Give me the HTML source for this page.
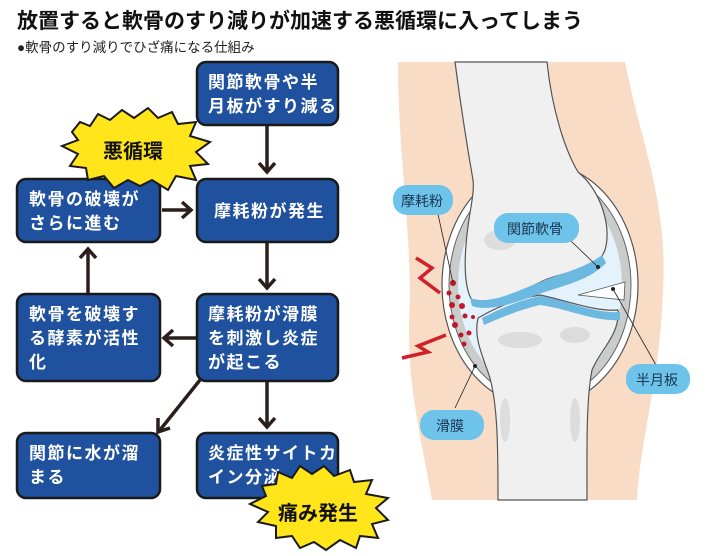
<!DOCTYPE html>
<html><head><meta charset="utf-8"><style>
body{margin:0;background:#fff;}
svg{display:block}
.t{font-family:"Liberation Sans","Noto Sans CJK JP",sans-serif;}
.bx{fill:#1f519e;stroke:#1a1a1a;stroke-width:2.5}
.bt{fill:#fff;font-weight:bold;font-size:17px;letter-spacing:1.5px}
.ar{stroke:#2a1f1c;stroke-width:3.5;fill:none}
.lb{fill:#6ec3ea}
.lt{fill:#1c3550;font-size:14px}
</style></head><body>
<svg width="710" height="556" viewBox="0 0 710 556" xmlns="http://www.w3.org/2000/svg" class="t">
<rect width="710" height="556" fill="#fff"/>
<text x="17" y="28" font-size="21" font-weight="bold" fill="#111">放置すると軟骨のすり減りが加速する悪循環に入ってしまう</text>
<text x="17" y="52" font-size="13.5" fill="#222">●軟骨のすり減りでひざ痛になる仕組み</text>

<g class="ar">
<line x1="267" y1="125" x2="267" y2="172"/><polyline points="259,163 267,172 275,163"/>
<line x1="162" y1="210" x2="190" y2="210"/><polyline points="182,202 191,210 182,218"/>
<line x1="267" y1="243" x2="267" y2="288"/><polyline points="259,279 267,288 275,279"/>
<line x1="88" y1="293" x2="88" y2="250"/><polyline points="80,258 88,249 96,258"/>
<line x1="196" y1="338" x2="165" y2="338"/><polyline points="173,330 164,338 173,346"/>
<line x1="200" y1="380" x2="160" y2="430"/><polyline points="158,418 158,432 170,428"/>
<line x1="267" y1="382" x2="267" y2="427"/><polyline points="259,418 267,427 275,418"/>
</g>

<rect class="bx" x="197" y="62" width="141" height="63" rx="9"/>
<text class="bt" x="208" y="88">関節軟骨や半</text>
<text class="bt" x="208" y="112" letter-spacing="0.5">月板がすり減る</text>
<rect class="bx" x="197" y="179" width="141" height="63" rx="9"/>
<text class="bt" x="214" y="217" letter-spacing="1">摩耗粉が発生</text>
<rect class="bx" x="17" y="179" width="143" height="63" rx="9"/>
<text class="bt" x="29" y="205">軟骨の破壊が</text>
<text class="bt" x="29" y="229">さらに進む</text>
<rect class="bx" x="197" y="294" width="141" height="87" rx="9"/>
<text class="bt" x="208" y="320">摩耗粉が滑膜</text>
<text class="bt" x="208" y="344">を刺激し炎症</text>
<text class="bt" x="208" y="368" letter-spacing="0">が起こる</text>
<rect class="bx" x="17" y="294" width="143" height="87" rx="9"/>
<text class="bt" x="29" y="320">軟骨を破壊す</text>
<text class="bt" x="29" y="344">る酵素が活性</text>
<text class="bt" x="29" y="368">化</text>
<rect class="bx" x="17" y="433" width="143" height="65" rx="9"/>
<text class="bt" x="29" y="459">関節に水が溜</text>
<text class="bt" x="29" y="483">まる</text>
<rect class="bx" x="197" y="433" width="141" height="65" rx="9"/>
<text class="bt" x="208" y="459" letter-spacing="0">炎症性サイトカ</text>
<text class="bt" x="208" y="483" letter-spacing="0">イン分泌</text>

<polygon fill="#ffe51a" stroke="#1a1a1a" stroke-width="2" points="72,132 80,122 90,126 98,114 110,120 122,110 134,118 148,108 158,118 172,112 178,124 196,122 190,136 210,142 196,152 208,164 190,166 196,180 176,176 168,190 152,180 140,186 128,180 114,188 104,176 88,180 86,168 70,166 78,154 62,146 78,140"/>
<text x="103" y="158" font-size="20" font-weight="bold" fill="#111">悪循環</text>
<polygon fill="#ffe51a" stroke="#1a1a1a" stroke-width="2" points="262,486 276,484 278,472 292,478 300,466 312,474 324,466 334,476 350,470 354,482 372,480 366,494 388,498 376,508 388,520 372,524 378,538 360,536 356,548 340,540 326,550 314,542 300,548 292,536 276,538 276,526 258,522 268,512 250,504 266,496"/>
<text x="278" y="520" font-size="20" font-weight="bold" fill="#111">痛み発生</text>

<!-- knee -->
<path d="M398,62 L625,62 C640,140 668,200 663,290 C660,380 640,440 637,500 L432,500 C420,430 405,380 410,300 C410,220 398,150 398,62 Z" fill="#f8dcc6"/>
<ellipse cx="540" cy="285" rx="98" ry="122" fill="#fff" stroke="#555" stroke-width="1.2"/>
<ellipse cx="540" cy="285" rx="91" ry="115" fill="#c9ccca" stroke="#666" stroke-width="1"/>
<ellipse cx="540" cy="285" rx="82" ry="106" fill="#e3f2fb"/>
<!-- tibia -->
<path d="M478,318 C500,305 520,298 540,295 C565,300 595,312 618,310 C620,335 600,350 592,370 C586,400 587,450 587,500 L498,500 C498,450 498,400 488,372 C480,350 474,335 478,318 Z" fill="#f1f0f0" stroke="#555" stroke-width="1.2"/>
<!-- femur -->
<path d="M455,62 L547,62 C552,110 565,150 578,172 C600,190 612,225 605,250 C598,270 570,270 545,280 C520,290 500,310 478,305 C465,300 464,270 466,245 C468,215 475,195 473,180 C466,140 460,100 455,62 Z" fill="#f1f0f0" stroke="#555" stroke-width="1.2"/>
<g fill="#d8d8d8" opacity="0.8">
<ellipse cx="500" cy="240" rx="16" ry="10"/><ellipse cx="560" cy="225" rx="18" ry="8"/>
<ellipse cx="520" cy="340" rx="22" ry="8"/><ellipse cx="575" cy="335" rx="15" ry="8"/>
<ellipse cx="505" cy="420" rx="5" ry="22"/><ellipse cx="575" cy="420" rx="5" ry="22"/>
</g>
<path d="M470,298 C490,305 515,292 540,282 C565,272 585,268 602,255 L606,263 C590,280 565,285 542,293 C515,303 490,312 472,306 Z" fill="#6bb8e0"/>
<path d="M482,318 C505,306 522,300 540,296 C565,300 595,314 620,312 L620,320 C595,322 565,308 540,305 C522,309 505,316 484,325 Z" fill="#6bb8e0"/>
<path d="M578,295 L625,282 L624,300 Z" fill="#fff" stroke="#555" stroke-width="0.8"/>
<g fill="#c0182a">
<circle cx="453" cy="283" r="3"/><circle cx="449" cy="293" r="2.5"/><circle cx="458" cy="297" r="2.5"/><circle cx="452" cy="305" r="3"/><circle cx="462" cy="306" r="3"/><circle cx="452" cy="317" r="2.5"/><circle cx="465" cy="316" r="2.5"/><circle cx="455" cy="325" r="3"/><circle cx="461" cy="335" r="2.5"/><circle cx="469" cy="333" r="2.5"/><circle cx="464" cy="344" r="2.5"/><circle cx="473" cy="317" r="2"/>
</g>
<polyline points="416,258 432,268 420,278 440,293" fill="none" stroke="#d0202a" stroke-width="3.5"/>
<polyline points="402,358 428,352 418,346 446,335" fill="none" stroke="#d0202a" stroke-width="3.5"/>
<g stroke="#222" stroke-width="0.8">
<line x1="436" y1="205" x2="453" y2="283"/>
<line x1="570" y1="240" x2="598" y2="267"/>
<line x1="613" y1="289" x2="656" y2="365"/>
<line x1="475" y1="366" x2="455" y2="408"/>
</g>
<g fill="#222"><circle cx="598" cy="267" r="2"/><circle cx="613" cy="289" r="2"/><circle cx="475" cy="366" r="2"/></g>
<rect class="lb" x="393" y="185" width="60" height="30" rx="14"/>
<text class="lt" x="401" y="206">摩耗粉</text>
<rect class="lb" x="494" y="213" width="85" height="30" rx="14"/>
<text class="lt" x="507" y="234">関節軟骨</text>
<rect class="lb" x="626" y="364" width="64" height="30" rx="14"/>
<text class="lt" x="636" y="385">半月板</text>
<rect class="lb" x="420" y="410" width="64" height="30" rx="14"/>
<text class="lt" x="436" y="431">滑膜</text>
</svg>
</body></html>
